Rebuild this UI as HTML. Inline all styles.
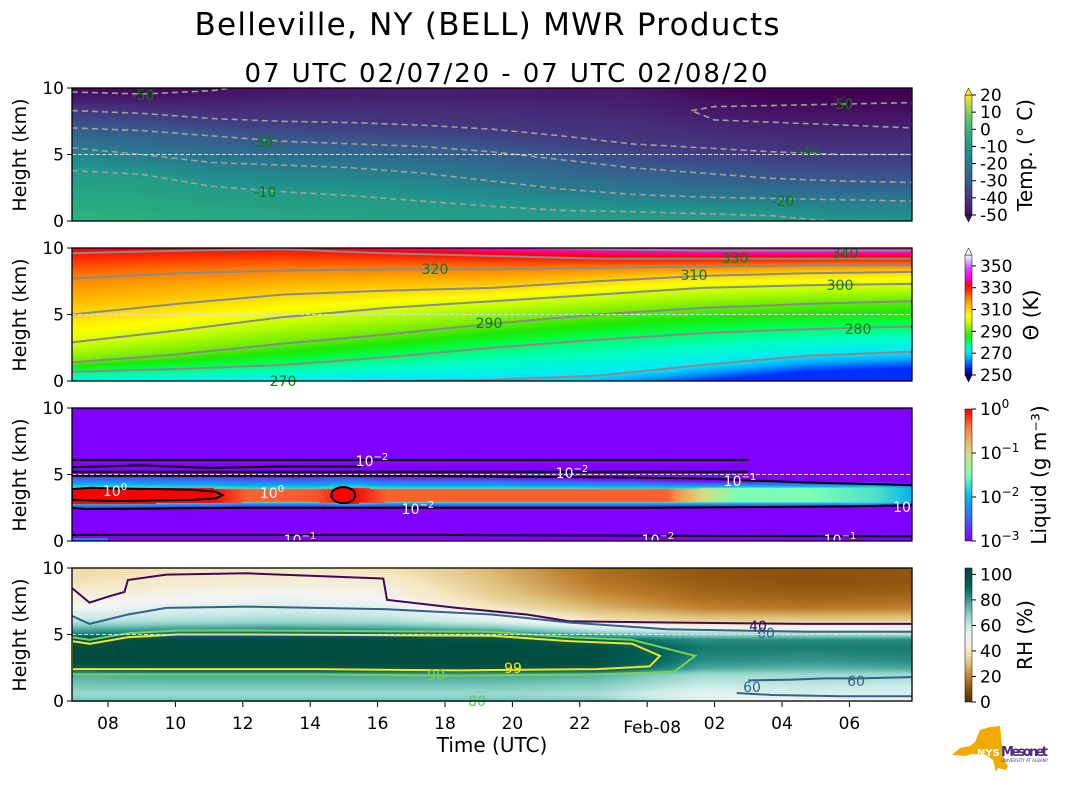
<!DOCTYPE html>
<html><head><meta charset="utf-8">
<style>
body{margin:0;background:#fff;width:1066px;height:806px;overflow:hidden;position:relative;font-family:"DejaVu Sans","Liberation Sans",sans-serif}
canvas{position:absolute}
svg{position:absolute;left:0;top:0}
</style></head>
<body>
<canvas id="c0" width="840" height="133" style="left:72px;top:88px"></canvas>
<canvas id="c1" width="840" height="133" style="left:72px;top:248px"></canvas>
<canvas id="c2" width="840" height="133" style="left:72px;top:408px"></canvas>
<canvas id="c3" width="840" height="134" style="left:72px;top:568px"></canvas>
<svg id="s" width="1066" height="806" xmlns="http://www.w3.org/2000/svg">
<text x="487" y="35" font-size="31" text-anchor="middle" textLength="585">Belleville, NY (BELL) MWR Products</text>
<text x="506" y="82" font-size="26" text-anchor="middle" textLength="523">07 UTC 02/07/20 - 07 UTC 02/08/20</text>
<text x="492" y="752" font-size="20" text-anchor="middle">Time (UTC)</text>
<g>
<polygon points="952,755 960,748 970,746 975,742 980,730 990,727 1000,726 1002,745 1004,760 1008,766 1006,770 998,768 996,772 993,760 986,755 972,754 965,756" fill="#f0aa00"/>
<text x="977" y="756" font-size="10" font-weight="bold" fill="#fff">NYS</text>
<text x="1001" y="756" font-size="13" font-weight="bold" fill="#4b2e83" textLength="47">Mesonet</text>
<text x="1001" y="762" font-size="4" fill="#4b2e83">UNIVERSITY AT ALBANY</text>
</g>
</svg>
<script>
// ---------------- DATA ----------------
const tTimes=[6.93,9.01,11.09,13.16,15.24,17.32,19.40,21.47,23.55,25.63,27.70,29.78,31.86];
const tSfc=[-1,-2,-4,-5,-6,-7,-8,-8.5,-9,-9,-9.5,-10.5,-11];
const tM10=[3.8,3.5,2.6,2.2,1.9,1.5,1.1,0.8,0.7,0.55,0.4,-0.1,-0.3];
const tM20=[5.5,5.0,4.4,4.2,4.0,3.6,3.0,2.4,2.0,1.8,1.7,1.6,1.5];
const tM30=[7.0,6.8,6.4,6.0,5.8,5.6,5.2,4.6,4.0,3.6,3.2,3.0,2.9];
const tM40=[8.3,8.1,7.7,7.5,7.4,7.2,6.9,6.4,5.8,5.5,5.2,5.0,5.0];
const tM50=[9.7,9.6,9.9,10.4,10.8,11,11,11,11,9.3,8.6,8.4,8.4];
const m50LeftT=[6.93,9.01,11.09,12.5];
const m50LeftH=[9.7,9.55,9.8,10.3];
const m50LoopT=[25.31,26,28,31.86,31.86,28,26,25.31];
const m50LoopH=[8.3,8.6,8.7,8.9,7.0,7.4,7.6,8.3];
const tempLevels=[-10,-20,-30,-40,-50];
const thTimes=[6.93,10.05,13.16,16.28,19.40,22.51,25.63,28.74,31.86];
const th270=[-0.2,-0.2,-0.1,0,0.1,0.4,1.2,1.9,2.2];
const th280=[0.7,0.9,1.2,1.8,2.5,3.1,3.6,3.9,4.1];
const th290=[1.4,2.0,2.8,3.5,4.3,5.0,5.5,5.8,6.0];
const th300=[2.9,3.8,4.8,5.5,6.0,6.5,7.0,7.2,7.3];
const th310=[5.0,5.8,6.5,6.8,7.0,7.5,7.9,8.1,8.2];
const th320=[7.7,8.1,8.3,8.4,8.4,8.5,8.6,8.7,8.7];
const th330=[9.6,9.8,9.9,9.6,9.4,9.2,9.2,9.2,9.2];
const th340=[10.5,10.5,10.5,10.3,10.1,9.9,9.8,9.8,9.8];
const thLevels=[270,280,290,300,310,320,330,340];
const lwcTimes=[6.93,7.97,9.01,10.05,11.08,12.12,13.16,14.20,15.24,16.28,17.32,18.35,19.39,20.43,21.47,22.51,23.55,24.59,25.63,26.66,27.70,28.74,29.78,30.82,31.86];
const lwcPeak=[0,0,0,0,0,-0.35,-0.35,-0.3,0,-0.35,-0.35,-0.35,-0.35,-0.35,-0.35,-0.35,-0.35,-0.35,-1.0,-1.5,-1.5,-1.5,-1.6,-1.7,-2.0];
const lwcBase=[2.8,2.8,2.8,2.85,2.85,2.9,2.9,2.9,2.8,2.9,2.9,2.9,2.9,2.9,2.9,2.9,2.9,2.9,2.9,2.9,2.9,2.9,2.9,2.9,2.9];
const lwcTop=[4.0,4.0,4.0,3.95,3.95,3.9,3.9,3.9,4.0,3.9,3.9,3.9,3.9,3.9,3.9,3.9,3.9,3.9,3.95,4.0,4.0,4.0,4.0,4.0,4.0];
const lwcFade=[1.1,1.1,1.1,1.1,1.1,1.1,1.1,1.1,1.1,1.0,1.0,1.0,1.0,0.9,0.9,0.8,0.8,0.7,0.6,0.5,0.5,0.5,0.5,0.5,0.5];
const lq6T=[6.93,12.12,17.32,22.51,27.0], lq6H=[6.1,6.1,6.1,6.1,6.1];
const lq56T=[6.93,9.0,11.0,13.0,15.5], lq56H=[5.55,5.7,5.5,5.6,5.6];
const lq52T=[6.93,12.12,17.32,20.6,22.0,27.0], lq52H=[5.2,5.2,5.2,5.2,5.2,5.2];
const lq49T=thTimes, lq49H=[4.9,4.9,4.9,4.9,4.85,4.8,4.7,4.4,4.2];
const lq25T=[6.93,7.3,12,18,24,30,31.86], lq25H=[2.5,2.4,2.5,2.5,2.5,2.6,2.7];
const lq04T=[6.93,12,18,24,31.86], lq04H=[0.45,0.45,0.45,0.4,0.35];
const redLoopT=[6.93,7.5,8.2,9.5,10.5,11.2,11.40,11.2,10.5,9.5,8.2,7.5,6.93];
const redLoopH=[3.9,4.0,3.95,3.9,3.85,3.7,3.45,3.2,3.1,3.05,3.0,3.05,3.1];
const blobT=[14.98], blobH=[3.45];
const rhTimes=thTimes;
const rhHeights=[0,0.5,1,2,2.4,3,4,4.6,5.2,6,7,8,9,10];
const rhCols=[
[72,66,70,76,94,100,100,98,80,62,50,44,38,36],
[72,66,70,78,97,100,100,100,84,64,54,48,42,38],
[72,66,70,78,97,100,100,100,86,66,56,50,44,40],
[72,66,70,78,97,100,100,100,84,64,54,48,43,38],
[72,66,70,78,97,100,100,98,80,56,40,33,30,28],
[70,64,68,76,96,100,99,92,66,40,28,22,18,16],
[55,52,58,66,76,82,86,82,60,34,20,15,12,11],
[50,56,60,66,74,80,85,82,58,34,18,13,10,10],
[48,56,58,66,76,82,86,82,56,34,20,14,11,11]];
const rh40T=[6.93,7.45,8.07,8.49,8.59,9.73,12.12,16.17,16.28,18.35,20.43,21.68,24.59,28.74,31.86];
const rh40H=[8.5,7.4,7.9,8.2,9.1,9.5,9.6,9.2,7.6,7.0,6.5,6.0,5.9,5.8,5.8];
const rh60T=[6.93,7.45,8.59,9.73,12.12,16.28,19.39,21.68,24.59,28.74,31.86];
const rh60H=[6.4,5.8,6.5,7.0,7.1,6.9,6.5,5.9,5.4,5.2,5.2];
const rh99T=[6.93,7.45,8.59,10.05,12.12,16.28,19.39,21.68,23.55,24.38,24.07,22.51,18.35,14.20,10.05,6.93];
const rh99H=[4.5,4.3,4.8,5.0,5.0,4.95,4.9,4.5,4.3,3.4,2.6,2.4,2.3,2.4,2.4,2.4];
const rh90T=[6.93,7.45,8.59,10.05,12.12,16.28,19.39,21.68,23.55,25.42,24.8,22.51,18.35,14.20,10.05,6.93];
const rh90H=[4.8,4.6,5.1,5.3,5.3,5.25,5.2,4.8,4.6,3.4,2.2,2.0,1.9,2.0,2.0,2.0];
const rh60bT=[27.0,28.22,29.26,30.30,31.86], rh60bH=[1.55,1.6,1.7,1.7,1.8];
const rh60cT=[26.66,27.70,29.78,31.86], rh60cH=[0.6,0.45,0.35,0.35];
const xTickHours=[8,10,12,14,16,18,20,22,24,26,28,30];
const xTickLabels=['08','10','12','14','16','18','20','22','Feb-08','02','04','06'];
const yTicks=[0,5,10];
const tempTicks=[20,10,0,-10,-20,-30,-40,-50];
const thTicks=[350,330,310,290,270,250];
const lwcTicks=[0,-1,-2,-3];
const rhTicks=[100,80,60,40,20,0];

// ---------------- HELPERS ----------------
const PT=[88,248,408,568], X0=72, W=840, PH=133;
function xOf(t){return 108+(t-8)*33.7;}
function yOf(p,h){return PT[p]+PH-h*13.3;}
function interp(xs,ys,x){if(x<=xs[0])return ys[0];for(let i=1;i<xs.length;i++){if(x<=xs[i]){const f=(x-xs[i-1])/(xs[i]-xs[i-1]);return ys[i-1]+f*(ys[i]-ys[i-1]);}}return ys[ys.length-1];}
function hex(c){return [parseInt(c.substr(1,2),16),parseInt(c.substr(3,2),16),parseInt(c.substr(5,2),16)];}
function cmap(stops,v){if(v<=stops[0][0])return hex(stops[0][1]);for(let i=1;i<stops.length;i++){if(v<=stops[i][0]){const a=hex(stops[i-1][1]),b=hex(stops[i][1]);const f=(v-stops[i-1][0])/(stops[i][0]-stops[i-1][0]);return [a[0]+f*(b[0]-a[0]),a[1]+f*(b[1]-a[1]),a[2]+f*(b[2]-a[2])];}}return hex(stops[stops.length-1][1]);}
const VIR=[[-53,'#440154'],[-43,'#472d7b'],[-33,'#3b528b'],[-23,'#2c728e'],[-13,'#21918c'],[-3,'#28ae80'],[7,'#5ec962'],[20,'#fde725']];
const THC=[[250,'#000080'],[258,'#0030ff'],[264,'#00a0ff'],[270,'#00e8ff'],[276,'#00ffc0'],[282,'#00ff40'],[286,'#20e800'],[292,'#80f000'],[298,'#c8ff00'],[304,'#ffff00'],[310,'#ffd800'],[316,'#ffa800'],[322,'#ff7000'],[328,'#ff2800'],[332,'#ff0000'],[338,'#ff00c0'],[342,'#ff00ff'],[350,'#c070ff'],[360,'#ffffff']];
const RBW=[[-3,'#8000ff'],[-2.5,'#4062fa'],[-2,'#00b4eb'],[-1.5,'#80ffb4'],[-1,'#d4dd80'],[-0.5,'#ff8c46'],[0,'#ff0000']];
const BRBG=[[0,'#543005'],[10,'#8c510a'],[20,'#bf812d'],[30,'#dfc27d'],[40,'#f6e8c3'],[50,'#f5f5f5'],[60,'#c7eae5'],[70,'#80cdc1'],[80,'#35978f'],[90,'#01665e'],[100,'#004d40']];

function tempVal(t,h){
  const hs=[0],vs=[interp(tTimes,tSfc,t)];
  const arrs=[tM10,tM20,tM30,tM40,tM50];
  for(let i=0;i<arrs.length;i++){const hh=interp(tTimes,arrs[i],t);if(hh>hs[hs.length-1]+0.01){hs.push(hh);vs.push(tempLevels[i]);}}
  hs.push(12);vs.push(-60);
  return interp(hs,vs,h);
}
function thVal(t,h){
  const arrs=[th270,th280,th290,th300,th310,th320,th330,th340];
  const hs=[interp(thTimes,th270,t)-1.2],vs=[258];
  for(let i=0;i<arrs.length;i++){hs.push(interp(thTimes,arrs[i],t));vs.push(thLevels[i]);}
  hs.push(hs[hs.length-1]+1.5);vs.push(352);
  return interp(hs,vs,h);
}
function lwcVal(t,h){
  const pk=interp(lwcTimes,lwcPeak,t),b=interp(lwcTimes,lwcBase,t),tp=interp(lwcTimes,lwcTop,t),fd=interp(lwcTimes,lwcFade,t);
  let v;
  if(h>=b&&h<=tp)v=pk;
  else if(h>tp){const d=(h-tp)/fd;v=Math.min(pk,-1.7)-1.3*d;}
  else{const d=(b-h)/0.35;v=Math.min(pk,-1.7)-1.3*d;}
  if(h<0.2&&t<8)v=Math.max(v,-2.3);
  return Math.max(v,-3);
}
function rhVal(t,h){
  const col=rhHeights.map((_,j)=>interp(rhTimes,rhCols.map(c=>c[j]),t));
  return interp(rhHeights,col,h);
}
function drawField(id,fn,cm,rows){
  const c=document.getElementById(id),ctx=c.getContext('2d');
  const img=ctx.createImageData(840,rows);
  for(let py=0;py<rows;py++){const h=(133-py-0.5)/13.3;
    for(let px=0;px<840;px++){const t=6.93+(px+0.5)/33.7;const col=cmap(cm,fn(t,h));const k=(py*840+px)*4;img.data[k]=col[0];img.data[k+1]=col[1];img.data[k+2]=col[2];img.data[k+3]=255;}}
  ctx.putImageData(img,0,0);
}
drawField('c0',tempVal,VIR,133);
drawField('c1',thVal,THC,133);
drawField('c2',lwcVal,RBW,133);
drawField('c3',rhVal,BRBG,134);

const S=document.getElementById('s'),NS='http://www.w3.org/2000/svg';
function mk(tag,attrs,parent){const e=document.createElementNS(NS,tag);for(const k in attrs)e.setAttribute(k,attrs[k]);(parent||S).appendChild(e);return e;}
const defs=mk('defs',{});
for(let p=0;p<4;p++){const cp=mk('clipPath',{id:'clip'+p},defs);mk('rect',{x:X0,y:PT[p],width:W,height:PH},cp);}
function pathD(p,ts,hs,close){return ts.map((t,i)=>(i?'L':'M')+xOf(t).toFixed(1)+','+yOf(p,hs[i]).toFixed(1)).join('')+(close?'Z':'');}
function line(p,ts,hs,stroke,w,dash,name,close){
  const e=mk('path',{d:pathD(p,ts,hs,close),fill:'none',stroke:stroke,'stroke-width':w,'clip-path':'url(#clip'+p+')'});
  if(dash)e.setAttribute('stroke-dasharray',dash);
  
  
  return e;
}
function label(x,y,txt,color,size,name,sup){
  const e=mk('text',{x:x,y:y,fill:color,'font-size':size,'text-anchor':'middle'});
  e.textContent=txt;
  if(sup!==undefined){const s=mk('tspan',{dy:-6,'font-size':size*0.72},e);s.textContent=sup;}
  
  
  return e;
}
[tM10,tM20,tM30,tM40].forEach((a,i)=>{line(0,tTimes,a,'#a0a0a0',1.6,'6,4','temp-contour-'+(i+1)*10);});
line(0,m50LeftT,m50LeftH,'#a0a0a0',1.6,'6,4','temp-contour-50-left');
line(0,m50LoopT,m50LoopH,'#a0a0a0',1.6,'6,4','temp-contour-50-loop');
[[143,100,'-50'],[262,147,'-30'],[265,197,'-10'],[842,109,'-50'],[808,157,'-40'],[783,206,'-20']].forEach(l=>label(l[0],l[1],l[2],'#0a7a0a',14,'temp-contour-label'));
[th270,th280,th290,th300,th310,th320,th330,th340].forEach((a,i)=>{line(1,thTimes,a,'#8a8a8a',2,null,'theta-contour-'+thLevels[i]);});
[[435,274,'320'],[694,280,'310'],[840,290,'300'],[489,328,'290'],[858,334,'280'],[283,386,'270'],[735,263,'330'],[845,258,'340']].forEach(l=>label(l[0],l[1],l[2],'#0a7a0a',14,'theta-contour-label'));
[[lq6T,lq6H],[lq56T,lq56H],[lq52T,lq52H],[lq49T,lq49H],[lq25T,lq25H],[lq04T,lq04H]].forEach((a,i)=>{line(2,a[0],a[1],'#000',2,null,'liquid-contour-'+i);});
line(2,redLoopT,redLoopH,'#000',2,null,'liquid-contour-red-loop',true);
blobT.forEach((t,i)=>{const e=mk('ellipse',{cx:xOf(t),cy:yOf(2,blobH[i]),rx:12,ry:8,fill:'#ff0000',stroke:'#000','stroke-width':2});

});
[[372,466,'10','−2'],[115,496,'10','0'],[272,498,'10','0'],[418,514,'10','−2'],[300,545,'10','−1'],[572,478,'10','−2'],[740,486,'10','−1'],[902,512,'10',''],[658,545,'10','−2'],[840,545,'10','−1']].forEach(l=>label(l[0],l[1],l[2],'#fff',14,'liquid-contour-label',l[3]||undefined));
line(3,rh40T,rh40H,'#3b0a5e',2,null,'rh-contour-40');
line(3,rh60T,rh60H,'#35628a',2,null,'rh-contour-60');
line(3,rh90T,rh90H,'#7ad151',2,null,'rh-contour-90',true);
line(3,rh99T,rh99H,'#f5e61f',2,null,'rh-contour-99',true);
line(3,rh60bT,rh60bH,'#35628a',2,null,'rh-contour-60-low');
line(3,rh60cT,rh60cH,'#35628a',2,null,'rh-contour-60-bottom');
[[758,631,'40','#3b0a5e'],[766,638,'60','#35628a'],[513,673,'99','#f5e61f'],[436,680,'90','#7ad151'],[856,686,'60','#35628a'],[752,692,'60','#35628a'],[477,706,'80','#5ec962']].forEach(l=>label(l[0],l[1],l[2],l[3],14,'rh-contour-label'));
const yNames=['Height (km)','Height (km)','Height (km)','Height (km)'];
for(let p=0;p<4;p++){
  const dl=mk('line',{x1:X0,x2:X0+W,y1:yOf(p,5),y2:yOf(p,5),stroke:'#ddd','stroke-width':1,'stroke-dasharray':'4,2'});
  
  
  const fr=mk('rect',{x:X0,y:PT[p],width:W,height:PH,fill:'none',stroke:'#000','stroke-width':1.3});
  
  
  yTicks.forEach(v=>{
    const tk=mk('line',{x1:X0-5,x2:X0,y1:yOf(p,v),y2:yOf(p,v),stroke:'#000','stroke-width':1});
    
    
    const tl=mk('text',{x:X0-8,y:yOf(p,v)+6,'font-size':17,'text-anchor':'end'});tl.textContent=v;
    
    
  });
  const yl=mk('text',{x:0,y:0,'font-size':19,'text-anchor':'middle',transform:'translate(26,'+(PT[p]+67)+') rotate(-90)'});yl.textContent=yNames[p];
  
  
}
xTickHours.forEach((h,i)=>{
  const x=xOf(h);
  const tk=mk('line',{x1:x,x2:x,y1:702,y2:707,stroke:'#000','stroke-width':1});
  
  
  const isDay=xTickLabels[i].length>2;
  const tl=mk('text',{x:isDay?x+5:x,y:isDay?733:729,'font-size':17,'text-anchor':'middle'});tl.textContent=xTickLabels[i];
  
  
});
function colorbar(idx,top,bot,vmin,vmax,cm,ticks,fmt,title,ext,sup,tx){
  const g=mk('linearGradient',{id:'cg'+idx,x1:0,y1:1,x2:0,y2:0},defs);
  for(let k=0;k<=20;k++){const v=vmin+(vmax-vmin)*k/20;const c=cmap(cm,v);mk('stop',{offset:k/20,'stop-color':'rgb('+c.map(Math.round).join(',')+')'},g);}
  const r=mk('rect',{x:965,y:top,width:7,height:bot-top,fill:'url(#cg'+idx+')',stroke:'#000','stroke-width':0.5});
  
  
  if(ext){
    const c1=cmap(cm,vmax),c0=cmap(cm,vmin);
    const a=mk('polygon',{points:'965,'+top+' 972,'+top+' 968.5,'+(top-7),fill:'rgb('+c1.map(Math.round).join(',')+')',stroke:'#000','stroke-width':0.5});
    
    
    const b=mk('polygon',{points:'965,'+bot+' 972,'+bot+' 968.5,'+(bot+7),fill:'rgb('+c0.map(Math.round).join(',')+')',stroke:'#000','stroke-width':0.5});
    
    
  }
  ticks.forEach(v=>{
    const y=bot-(v-vmin)/(vmax-vmin)*(bot-top);
    const tk=mk('line',{x1:972,x2:976,y1:y,y2:y,stroke:'#000'});
    
    
    const tl=mk('text',{x:980,y:y+6,'font-size':17});tl.textContent=fmt(v);
    if(sup){const s=mk('tspan',{dy:-7,'font-size':12},tl);s.textContent=v===0?'0':'−'+(-v);}
    
    
  });
  const tt=mk('text',{x:0,y:0,'font-size':20,'text-anchor':'middle',transform:'translate('+tx+','+((top+bot)/2)+') rotate(-90)'});tt.textContent=title;
  
  
}
colorbar(0,95,215,-50,20,VIR,tempTicks,v=>String(v),'Temp. (° C)',true,false,1032);
colorbar(1,255,375,250,360,THC,thTicks,v=>v,'Θ (K)',true,false,1038);
colorbar(2,409,541,-3,0,RBW,lwcTicks,v=>'10',"Liquid (g m⁻³)",false,true,1046);
colorbar(3,568,702,0,105,BRBG,rhTicks,v=>v,'RH (%)',false,false,1032);
</script>
</body></html>
